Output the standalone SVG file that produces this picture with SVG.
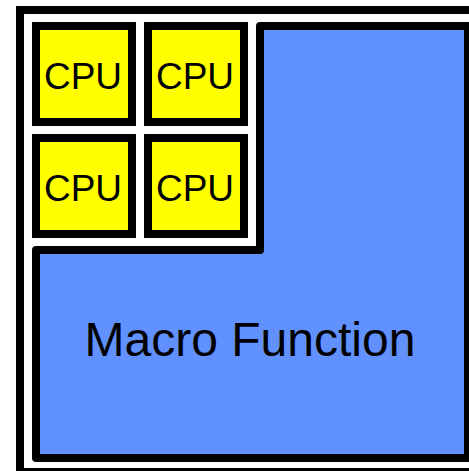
<svg xmlns="http://www.w3.org/2000/svg" width="469" height="471" viewBox="0 0 469 471">
  <style>
    .frame { fill: #ffffff; stroke: #000000; stroke-width: 8; }
    .cpu rect { fill: #ffff00; stroke: #000000; stroke-width: 8; }
    .label { font-family: "Liberation Sans", Arial, sans-serif; fill: #000000; text-anchor: middle; }
    .cpu text { font-size: 37px; }
    .macro path { fill: #6190ff; stroke: #000000; stroke-width: 8; stroke-linejoin: round; }
    .macro text { font-size: 48px; }
  </style>
  <rect width="469" height="471" fill="#ffffff"/>
  <!-- chip outline -->
  <rect id="chip" class="frame" x="20" y="10" width="470" height="462"/>
  <!-- macro function block (L-shaped) -->
  <g id="macro" class="macro">
    <path d="M36,250 L260,250 L260,26 L468,26 L468,458 L36,458 Z"/>
    <text class="label" x="250" y="356">Macro Function</text>
  </g>
  <!-- CPU cores -->
  <g id="cpu1" class="cpu">
    <rect x="36" y="26" width="96" height="96"/>
    <text class="label" x="83" y="88.5">CPU</text>
  </g>
  <g id="cpu2" class="cpu">
    <rect x="148" y="26" width="96" height="96"/>
    <text class="label" x="195" y="88.5">CPU</text>
  </g>
  <g id="cpu3" class="cpu">
    <rect x="36" y="138" width="96" height="96"/>
    <text class="label" x="83" y="200.5">CPU</text>
  </g>
  <g id="cpu4" class="cpu">
    <rect x="148" y="138" width="96" height="96"/>
    <text class="label" x="195" y="200.5">CPU</text>
  </g>
  <g id="connectors"/>
</svg>
